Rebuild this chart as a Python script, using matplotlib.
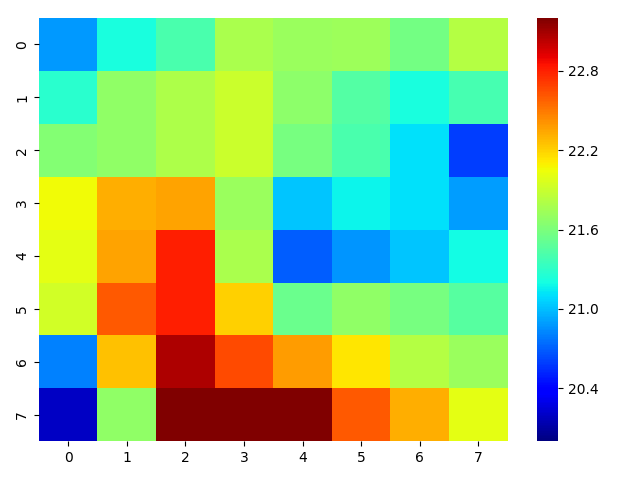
import numpy as np
import matplotlib
matplotlib.use("Agg")
import matplotlib.pyplot as plt
import seaborn as sns

row0 = [20.88, 21.22, 21.41, 21.78, 21.72, 21.73, 21.57, 21.82]
row1 = [21.28, 21.68, 21.79, 21.91, 21.67, 21.45, 21.22, 21.39]
row2 = [21.63, 21.68, 21.79, 21.91, 21.58, 21.41, 21.10, 20.59]
row3 = [22.05, 22.32, 22.36, 21.72, 21.02, 21.17, 21.10, 20.89]
row4 = [22.01, 22.35, 22.81, 21.78, 20.69, 20.87, 21.02, 21.20]
row5 = [21.93, 22.61, 22.81, 22.21, 21.53, 21.68, 21.58, 21.46]
row6 = [20.80, 22.25, 23.07, 22.66, 22.38, 22.13, 21.82, 21.72]
row7 = [20.19, 21.68, 23.20, 23.20, 23.20, 22.61, 22.32, 22.01]

data = np.array([row0, row1, row2, row3, row4, row5, row6, row7])

fig = plt.figure(figsize=(6.4, 4.8), dpi=100)
ax = sns.heatmap(data, cmap='jet', vmin=20.0, vmax=23.2,
                 cbar_kws={'ticks': [20.4, 21.0, 21.6, 22.2, 22.8]})
plt.tight_layout(rect=(0, 0, 1, 0.994))
plt.savefig('out.png')
